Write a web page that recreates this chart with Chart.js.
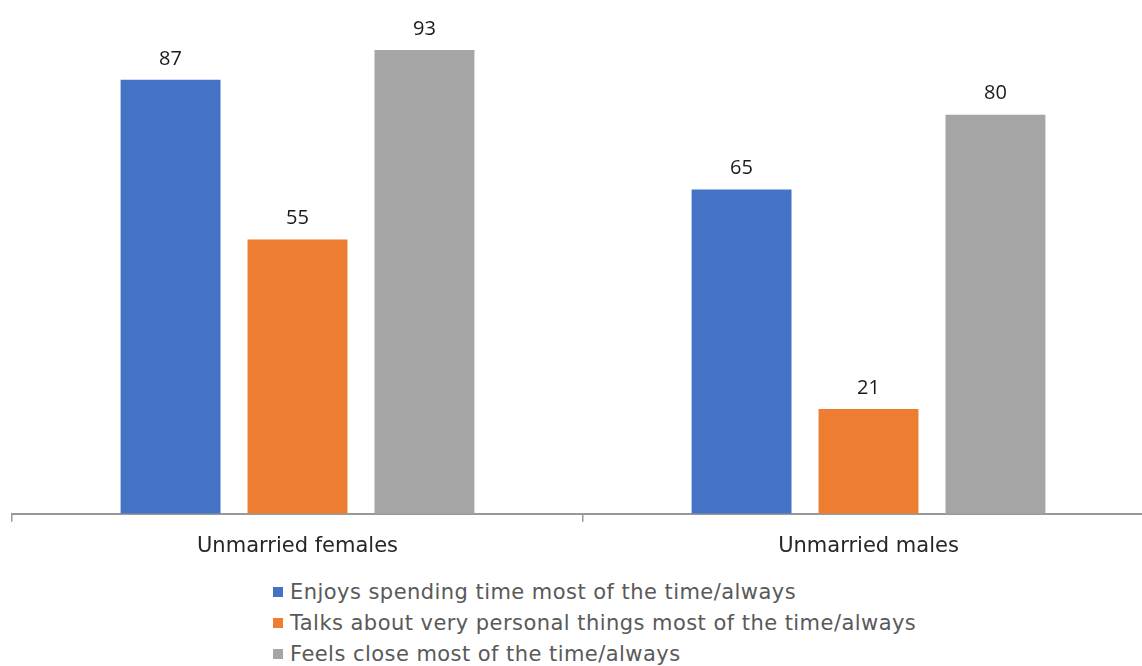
<!DOCTYPE html>
<html>
<head>
<meta charset="utf-8">
<script src="https://cdn.jsdelivr.net/npm/chart.js@4/dist/chart.umd.min.js"></script>
<style>
  html, body { margin: 0; padding: 0; background: #fff; overflow: hidden; width: 1142px; height: 666px; }
  #wrap { position: relative; width: 1142px; height: 666px; }
  #chart { position: absolute; left: 0; top: 0; }
  #legend { position: absolute; left: 273px; top: 577px; font-family: "DejaVu Sans", sans-serif; font-size: 21px; letter-spacing: 0.45px; color: #595959; }
  #legend div { height: 31px; line-height: 31px; white-space: nowrap; }
  #legend span { display: inline-block; width: 10px; height: 10px; margin-right: 7px; vertical-align: 2px; }
</style>
</head>
<body>
<div id="wrap">
  <canvas id="chart" width="1160" height="574"></canvas>
  <div id="legend"></div>
</div>
<script>
const categories = ["Unmarried females", "Unmarried males"];
const seriesNames = [
  "Enjoys spending time most of the time/always",
  "Talks about very personal things most of the time/always",
  "Feels close most of the time/always"
];
const enjoysValues = [87, 65];
const talksValues = [55, 21];
const closeValues = [93, 80];
const seriesColors = ["#4472C4", "#ED7D31", "#A5A5A5"];

// value labels above each bar
const valueLabels = {
  id: "valueLabels",
  afterDatasetsDraw(chart) {
    const ctx = chart.ctx;
    ctx.save();
    ctx.font = "20px 'Open Sans', sans-serif";
    ctx.fillStyle = "#1a1a1a";
    ctx.textAlign = "center";
    ctx.textBaseline = "bottom";
    chart.data.datasets.forEach((ds, i) => {
      chart.getDatasetMeta(i).data.forEach((bar, j) => {
        ctx.fillText(ds.data[j], bar.x, bar.y - 11);
      });
    });
    ctx.restore();
  }
};

const allValues = [enjoysValues, talksValues, closeValues];

new Chart(document.getElementById("chart"), {
  type: "bar",
  data: {
    labels: categories,
    datasets: seriesNames.map((name, i) => ({
      label: name,
      data: allValues[i],
      backgroundColor: seriesColors[i],
      categoryPercentage: 0.667,
      barPercentage: 0.787
    }))
  },
  options: {
    responsive: false,
    animation: false,
    layout: { padding: { left: 12, right: 6, top: 15, bottom: 3 } },
    plugins: { legend: { display: false }, tooltip: { enabled: false } },
    scales: {
      y: { display: false, min: 0, max: 100 },
      x: {
        offset: true,
        grid: { offset: true, drawOnChartArea: false, tickLength: 8, color: "#999", lineWidth: 1.5 },
        border: { color: "#999", width: 2 },
        ticks: { color: "#262626", padding: 12, font: { family: "DejaVu Sans", size: 21 } }
      }
    }
  },
  plugins: [valueLabels]
});

const legend = document.getElementById("legend");
seriesNames.forEach((name, i) => {
  const row = document.createElement("div");
  row.innerHTML = '<span style="background:' + seriesColors[i] + '"></span>' + name;
  legend.appendChild(row);
});
</script>
</body>
</html>
